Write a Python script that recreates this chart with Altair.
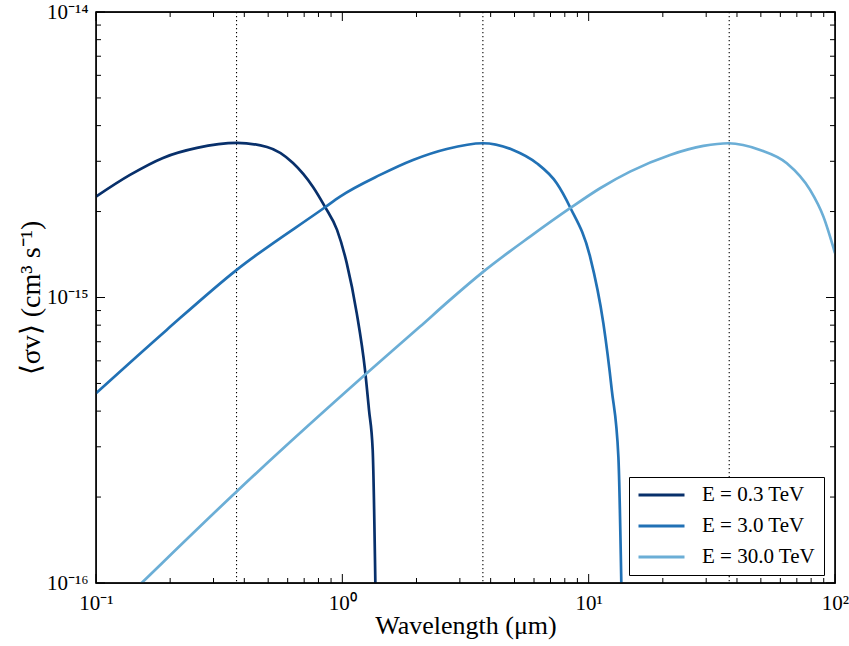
import altair as alt
import pandas as pd
import math

# ---- data ----
series_names = ["E = 0.3 TeV", "E = 3.0 TeV", "E = 30.0 TeV"]
series_colors = ["#08306b", "#2171b5", "#6baed6"]

wl_03 = [0.1, 0.1374, 0.1871, 0.2570, 0.3737, 0.4946, 0.6306, 0.7603, 0.8508,
         0.9517, 1.042, 1.144, 1.236, 1.283, 1.328, 1.370]
sv_03 = [2.257e-15, 2.688e-15, 3.083e-15, 3.341e-15, 3.478e-15, 3.368e-15, 2.960e-15,
         2.440e-15, 2.076e-15, 1.725e-15, 1.319e-15, 8.815e-16, 5.58e-16, 4.04e-16,
         2.928e-16, 6.97e-17]

wl_3 = [0.1, 0.1936, 0.3725, 0.851, 0.9787, 1.423, 1.936, 2.654, 3.715, 4.932, 6.156,
        7.42, 8.405, 10.13, 11.47, 12.41, 13.2, 13.67]
sv_3 = [4.62e-16, 7.70e-16, 1.25e-15, 2.071e-15, 2.257e-15, 2.688e-15, 3.033e-15,
        3.314e-15, 3.470e-15, 3.287e-15, 2.953e-15, 2.513e-15, 2.071e-15, 1.391e-15,
        8.13e-16, 4.75e-16, 2.773e-16, 6.97e-17]

wl_30 = [0.1, 0.1531, 0.3725, 1.236, 2.068, 2.737, 3.737, 5.781, 8.405, 11.13, 14.72,
         21.41, 29.22, 36.92, 49.65, 63.74, 79.22, 89.74, 100]
sv_30 = [7.0e-17, 1.0e-16, 2.092e-16, 5.36e-16, 7.91e-16, 9.81e-16, 1.232e-15, 1.634e-15,
         2.055e-15, 2.414e-15, 2.760e-15, 3.157e-15, 3.395e-15, 3.47e-15, 3.287e-15,
         2.953e-15, 2.381e-15, 1.920e-15, 1.43e-15]

peak_wl = [0.372, 3.72, 37.2]

x_major = [0.1, 1, 10, 100]
x_major_labels = ["10⁻¹", "10⁰", "10¹", "10²"]
y_major = [1e-16, 1e-15, 1e-14]
y_major_labels = ["10⁻¹⁶", "10⁻¹⁵", "10⁻¹⁴"]
x_minor = [m * 10.0 ** e for e in (-1, 0, 1) for m in range(2, 10)]
y_minor = [m * 10.0 ** e for e in (-16, -15) for m in range(2, 10)]

# ---- build tables ----
rows = []
for name, wls, svs in zip(series_names, [wl_03, wl_3, wl_30], [sv_03, sv_3, sv_30]):
    for i, (w, s) in enumerate(zip(wls, svs)):
        rows.append({"wl": w, "sv": s, "series": name, "i": i})
df = pd.DataFrame(rows)

W, H = 739, 571
FONT = "Liberation Serif"
MAJ, MIN = 9, 5


def label_expr(values, labels):
    expr = "''"
    for v, lab in zip(values, labels):
        e = round(math.log10(v))
        expr = f"(round(log(datum.value)/LN10) == {e} ? '{lab}' : {expr})"
    return expr


xs = alt.Scale(type="log", domain=[0.1, 100], nice=False)
ys = alt.Scale(type="log", domain=[1e-16, 1e-14], nice=False)

x_axis = alt.Axis(values=x_major, labelExpr=label_expr(x_major, x_major_labels),
                  ticks=False, tickSize=0, domain=False, grid=False,
                  labelFont=FONT, labelFontSize=21, labelColor="black",
                  labelPadding=9, labelFlush=False, labelOverlap=False,
                  title="Wavelength (μm)", titleFont=FONT, titleFontSize=26,
                  titleFontWeight="normal", titleColor="black",
                  titleX=W / 2, titleY=50, titleAlign="center",
                  titleBaseline="alphabetic")
y_axis = alt.Axis(values=y_major, labelExpr=label_expr(y_major, y_major_labels),
                  ticks=False, tickSize=0, domain=False, grid=False,
                  labelFont=FONT, labelFontSize=21, labelColor="black",
                  labelPadding=8, labelFlush=False, labelOverlap=False,
                  labelBaseline="middle",
                  title="⟨σv⟩ (cm³ s⁻¹)", titleFont=FONT, titleFontSize=28,
                  titleFontWeight="normal", titleColor="black",
                  titleAngle=270, titleX=-57, titleY=H / 2, titleAlign="center",
                  titleBaseline="alphabetic")

xenc = alt.X("wl:Q", scale=xs, axis=x_axis)
yenc = alt.Y("sv:Q", scale=ys, axis=y_axis)

lines = alt.Chart(df).mark_line(strokeWidth=2.7, clip=True, interpolate="monotone").encode(
    x=xenc, y=yenc,
    color=alt.Color("series:N",
                    scale=alt.Scale(domain=series_names, range=series_colors),
                    legend=alt.Legend(orient="none", legendX=533, legendY=465, title=None,
                                      symbolType="stroke", symbolSize=2116,
                                      symbolStrokeWidth=3, labelFont=FONT,
                                      labelFontSize=21, labelColor="black",
                                      labelOffset=16, padding=8, rowPadding=10,
                                      clipHeight=20, strokeColor="black",
                                      fillColor="white", cornerRadius=0)),
    order="i:Q",
)

vlines = alt.Chart(pd.DataFrame({"wl": peak_wl})).mark_rule(
    color="black", strokeWidth=1.1, strokeDash=[1.2, 2.8]).encode(x=xenc)


def xticks(vals, length):
    d = pd.DataFrame({"wl": vals})
    bot = alt.Chart(d).mark_rule(color="black", strokeWidth=1).encode(
        x=xenc, y=alt.value(H), y2=alt.value(H - length))
    top = alt.Chart(d).mark_rule(color="black", strokeWidth=1).encode(
        x=xenc, y=alt.value(0), y2=alt.value(length))
    return [bot, top]


def yticks(vals, length):
    d = pd.DataFrame({"sv": vals})
    left = alt.Chart(d).mark_rule(color="black", strokeWidth=1).encode(
        y=yenc, x=alt.value(0), x2=alt.value(length))
    right = alt.Chart(d).mark_rule(color="black", strokeWidth=1).encode(
        y=yenc, x=alt.value(W), x2=alt.value(W - length))
    return [left, right]


# plot frame drawn over the curves
frame = alt.Chart(pd.DataFrame({"wl": [0.1]})).mark_rect(
    fillOpacity=0, stroke="black", strokeWidth=1.3).encode(
    x=alt.value(0), x2=alt.value(W), y=alt.value(0), y2=alt.value(H))

layers = [vlines] + xticks(x_major, MAJ) + xticks(x_minor, MIN) + \
    yticks(y_major, MAJ) + yticks(y_minor, MIN) + [lines, frame]

chart = alt.layer(*layers).properties(
    width=W, height=H, autosize="none",
    padding={"left": 96, "top": 12, "right": 14, "bottom": 63},
).configure(font=FONT, view=alt.ViewConfig(stroke="black", strokeWidth=1.3))

chart.save("out.html", embed_options={"renderer": "svg", "actions": False})
